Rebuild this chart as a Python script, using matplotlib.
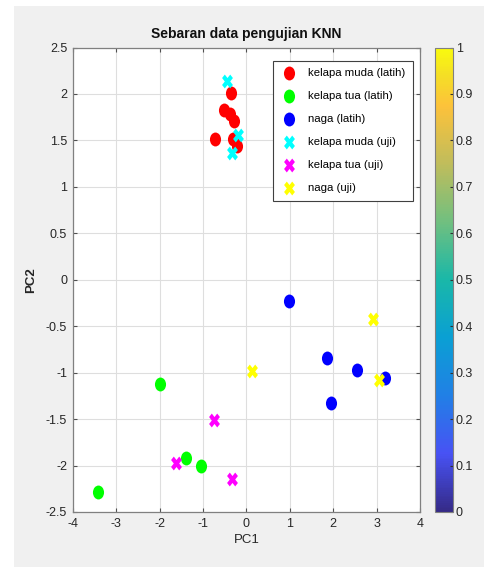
import numpy as np
import matplotlib
matplotlib.use("Agg")
import matplotlib.pyplot as plt
from matplotlib.path import Path
from matplotlib.markers import MarkerStyle
from matplotlib.transforms import Affine2D
from matplotlib.colors import LinearSegmentedColormap
from matplotlib.patches import Rectangle

plt.rcParams['font.family'] = ['Liberation Sans', 'DejaVu Sans']

# ---- data ----
km_latih_x = [-0.36, -0.51, -0.38, -0.28, -0.72, -0.30, -0.22]
km_latih_y = [2.01, 1.83, 1.78, 1.71, 1.52, 1.52, 1.44]
kt_latih_x = [-2.00, -1.38, -1.04, -3.42]
kt_latih_y = [-1.12, -1.92, -2.00, -2.29]
naga_latih_x = [0.99, 1.85, 2.56, 3.20, 1.96]
naga_latih_y = [-0.23, -0.84, -0.97, -1.06, -1.33]
km_uji_x = [-0.45, -0.20, -0.34]
km_uji_y = [2.14, 1.56, 1.36]
kt_uji_x = [-0.74, -1.63, -0.34]
kt_uji_y = [-1.51, -1.97, -2.15]
naga_uji_x = [2.92, 0.14, 3.06]
naga_uji_y = [-0.42, -0.98, -1.08]

labels = ['kelapa muda (latih)', 'kelapa tua (latih)', 'naga (latih)',
          'kelapa muda (uji)', 'kelapa tua (uji)', 'naga (uji)']
colors = ['#ff0000', '#00ff00', '#0000ff', '#00ffff', '#ff00ff', '#ffff00']

xticks = [-4, -3, -2, -1, 0, 1, 2, 3, 4]
yticks = [-2.5, -2, -1.5, -1, -0.5, 0, 0.5, 1, 1.5, 2, 2.5]
cticks = [0, 0.1, 0.2, 0.3, 0.4, 0.5, 0.6, 0.7, 0.8, 0.9, 1]

# parula-like colormap
parula_pts = [
    (0.0, (0.2081, 0.1663, 0.5292)),
    (0.125, (0.2810, 0.3228, 0.9579)),
    (0.25, (0.1300, 0.5000, 0.9000)),
    (0.375, (0.0400, 0.6250, 0.8300)),
    (0.5, (0.1000, 0.7200, 0.6600)),
    (0.625, (0.4400, 0.7500, 0.5000)),
    (0.75, (0.7500, 0.7400, 0.3600)),
    (0.875, (0.9900, 0.7600, 0.2300)),
    (0.94, (0.9600, 0.8700, 0.1500)),
    (1.0, (0.9763, 0.9831, 0.0538)),
]
parula = LinearSegmentedColormap.from_list('parula', parula_pts)

fig = plt.figure(figsize=(4.85, 5.67), dpi=100, facecolor='white')
fig.patches.append(Rectangle((14 / 485, 0), 1, 1 - 6 / 567, transform=fig.transFigure,
                             facecolor='#f0f0f0', edgecolor='none', zorder=-10))

ax = fig.add_axes([72.7 / 485, 1 - 512 / 567, (420 - 72.7) / 485, (512 - 47.5) / 567])
ax.set_facecolor('white')

circ = Path.unit_circle().transformed(Affine2D().scale(0.8, 1.0))
xm = MarkerStyle('X').get_path().transformed(Affine2D().scale(0.78, 1.0))

series = [
    (km_latih_x, km_latih_y, circ),
    (kt_latih_x, kt_latih_y, circ),
    (naga_latih_x, naga_latih_y, circ),
    (km_uji_x, km_uji_y, xm),
    (kt_uji_x, kt_uji_y, xm),
    (naga_uji_x, naga_uji_y, xm),
]
for (xs, ys, mk), lab, col in zip(series, labels, colors):
    ax.scatter(xs, ys, s=100, marker=mk, color=col, linewidths=0, label=lab, zorder=3)

ax.set_xlim(-4, 4)
ax.set_ylim(-2.5, 2.5)
ax.set_xticks(xticks)
ax.set_yticks(yticks)
ax.set_xticklabels([f'{t:g}' for t in xticks])
ax.set_yticklabels([f'{t:g}' for t in yticks])
ax.grid(True, color='#dedede', linewidth=0.8)
ax.set_axisbelow(True)
for s in ax.spines.values():
    s.set_color('#808080')
    s.set_linewidth(0.9)
ax.tick_params(direction='in', length=3, color='#505050', labelsize=9, labelcolor='#262626',
               top=True, right=True, pad=4)
ax.set_xlabel('PC1', fontsize=9.5, color='#262626', labelpad=3)
ax.set_ylabel('PC2', fontsize=9.5, color='#262626', fontweight='bold', labelpad=6)
ax.set_title('Sebaran data pengujian KNN', fontsize=10, fontweight='bold', color='#111111', pad=7)

leg = ax.legend(loc='upper right', bbox_to_anchor=(0.98, 0.972), fontsize=8.2, frameon=True,
                fancybox=False, edgecolor='#404040', framealpha=1, labelspacing=1.15,
                handlelength=1.6, handletextpad=0.9, borderpad=0.65, borderaxespad=0,
                markerscale=1.0, scatterpoints=1)
leg.get_frame().set_linewidth(0.8)

cax = fig.add_axes([435 / 485, 1 - 512 / 567, 18 / 485, (512 - 47.5) / 567])
sm = matplotlib.cm.ScalarMappable(cmap=parula, norm=matplotlib.colors.Normalize(0, 1))
cb = fig.colorbar(sm, cax=cax, ticks=cticks)
cb.ax.set_yticklabels([f'{t:g}' for t in cticks])
cb.outline.set_edgecolor('#808080')
cb.outline.set_linewidth(0.8)
cb.ax.tick_params(direction='in', length=2.5, labelsize=9, labelcolor='#262626', color='#303030', pad=2)

fig.savefig('out.png', dpi=100, facecolor=fig.get_facecolor())
